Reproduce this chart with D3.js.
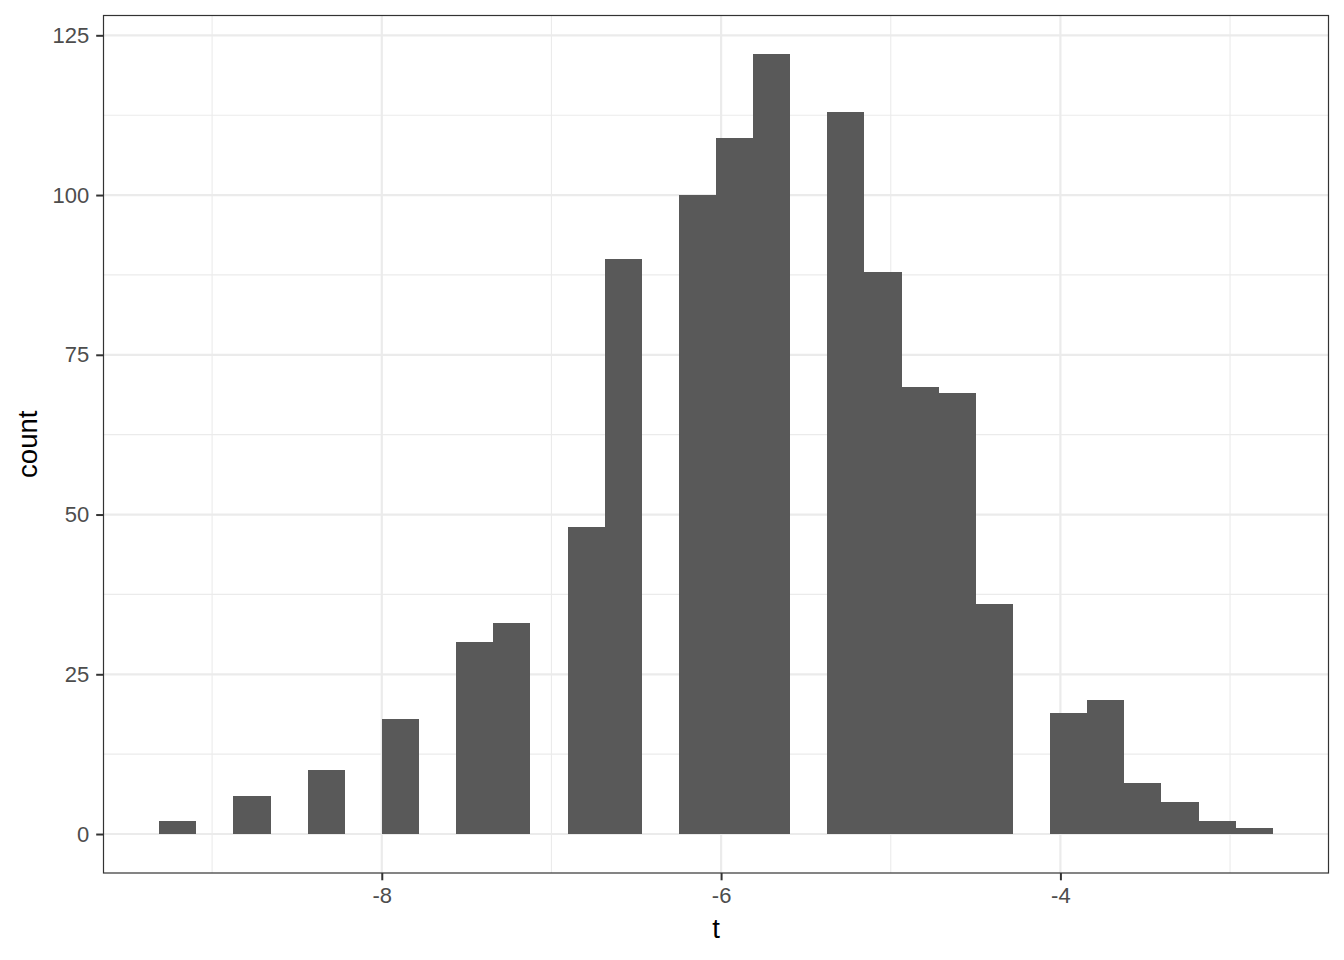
<!DOCTYPE html>
<html>
<head>
    <title></title>
    <script src="https://d3js.org/d3.v7.min.js"></script>
    <style>
        body { margin: 0; background: #fff; }
        text { font-family: "Liberation Sans", Arial, sans-serif; }
    </style>
</head>
<body>

    <svg id="chart" width="1344" height="960"></svg>

    <script>

    // histogram of t, 30 bins
    var binStart = -9.312;
    var binWidth = 0.2188;
    var counts = [ 2, 0, 6, 0, 10, 0, 18, 0, 30, 33,
                   0, 48, 90, 0, 100, 109, 122, 0, 113, 88,
                   70, 69, 36, 0, 19, 21, 8, 5, 2, 1 ];

    var xTicks = [-8, -6, -4];
    var xMinor = [-9, -7, -5, -3];
    var yTicks = [0, 25, 50, 75, 100, 125];
    var yMinor = [12.5, 37.5, 62.5, 87.5, 112.5];

    var bins = counts.map( (c, i) => ({ x0: binStart + i*binWidth, x1: binStart + (i+1)*binWidth, n: c }) );

    var pl = 103.5, pr = 1328.5, pt = 15.5, pb = 873;

    var lo = binStart, hi = binStart + counts.length*binWidth;
    var ex = (hi - lo) * 0.05;
    var xSc = d3.scaleLinear().domain([lo - ex, hi + ex]).range([pl, pr]);
    var yMax = d3.max(counts);
    var ySc = d3.scaleLinear().domain([-yMax*0.05, yMax*1.05]).range([pb, pt]);

    let svg = d3.select( "#chart" );

    // grid
    let g = svg.append( "g" );
    g.selectAll( ".ymin" ).data( yMinor ).enter().append( "line" )
        .attr( "x1", pl ).attr( "x2", pr ).attr( "y1", d=>ySc(d) ).attr( "y2", d=>ySc(d) )
        .attr( "stroke", "#ebebeb" ).attr( "stroke-width", 1.1 );
    g.selectAll( ".xmin" ).data( xMinor ).enter().append( "line" )
        .attr( "y1", pt ).attr( "y2", pb ).attr( "x1", d=>xSc(d) ).attr( "x2", d=>xSc(d) )
        .attr( "stroke", "#ebebeb" ).attr( "stroke-width", 1.1 );
    g.selectAll( ".ymaj" ).data( yTicks ).enter().append( "line" )
        .attr( "x1", pl ).attr( "x2", pr ).attr( "y1", d=>ySc(d) ).attr( "y2", d=>ySc(d) )
        .attr( "stroke", "#ebebeb" ).attr( "stroke-width", 2.2 );
    g.selectAll( ".xmaj" ).data( xTicks ).enter().append( "line" )
        .attr( "y1", pt ).attr( "y2", pb ).attr( "x1", d=>xSc(d) ).attr( "x2", d=>xSc(d) )
        .attr( "stroke", "#ebebeb" ).attr( "stroke-width", 2.2 );

    // bars
    svg.append( "g" ).selectAll( "rect" )
        .data( bins.filter( d => d.n > 0 ) ).enter().append( "rect" )
        .attr( "x", d=>xSc(d.x0) ).attr( "width", d=>xSc(d.x1) - xSc(d.x0) )
        .attr( "y", d=>ySc(d.n) ).attr( "height", d=>ySc(0) - ySc(d.n) )
        .attr( "fill", "#595959" ).attr( "shape-rendering", "crispEdges" );

    // panel border
    svg.append( "rect" ).attr( "x", pl ).attr( "y", pt )
        .attr( "width", pr - pl ).attr( "height", pb - pt )
        .attr( "fill", "none" ).attr( "stroke", "#333333" ).attr( "stroke-width", 1.2 );

    // axes
    let xAx = svg.append( "g" ).attr( "transform", "translate(0," + pb + ")" )
        .call( d3.axisBottom(xSc).tickValues(xTicks).tickSize(7.3).tickPadding(7.5) );
    let yAx = svg.append( "g" ).attr( "transform", "translate(" + pl + ",0)" )
        .call( d3.axisLeft(ySc).tickValues(yTicks).tickSize(7.3).tickPadding(7) );
    [xAx, yAx].forEach( a => {
        a.select( ".domain" ).remove();
        a.selectAll( "line" ).attr( "stroke", "#333333" ).attr( "stroke-width", 2 );
        a.selectAll( "text" ).attr( "fill", "#4d4d4d" ).style( "font-size", "22px" )
            .style( "font-family", "'Liberation Sans', Arial, sans-serif" );
    });
    xAx.selectAll( "text" ).text( d => String(d) );

    // titles
    svg.append( "text" ).attr( "x", (pl + pr)/2 ).attr( "y", 938 )
        .attr( "text-anchor", "middle" ).style( "font-size", "27.5px" ).text( "t" );
    svg.append( "text" ).attr( "transform", "translate(37," + (pt + pb)/2 + ") rotate(-90)" )
        .attr( "text-anchor", "middle" ).style( "font-size", "27.5px" ).text( "count" );

    </script>

</body></html>
